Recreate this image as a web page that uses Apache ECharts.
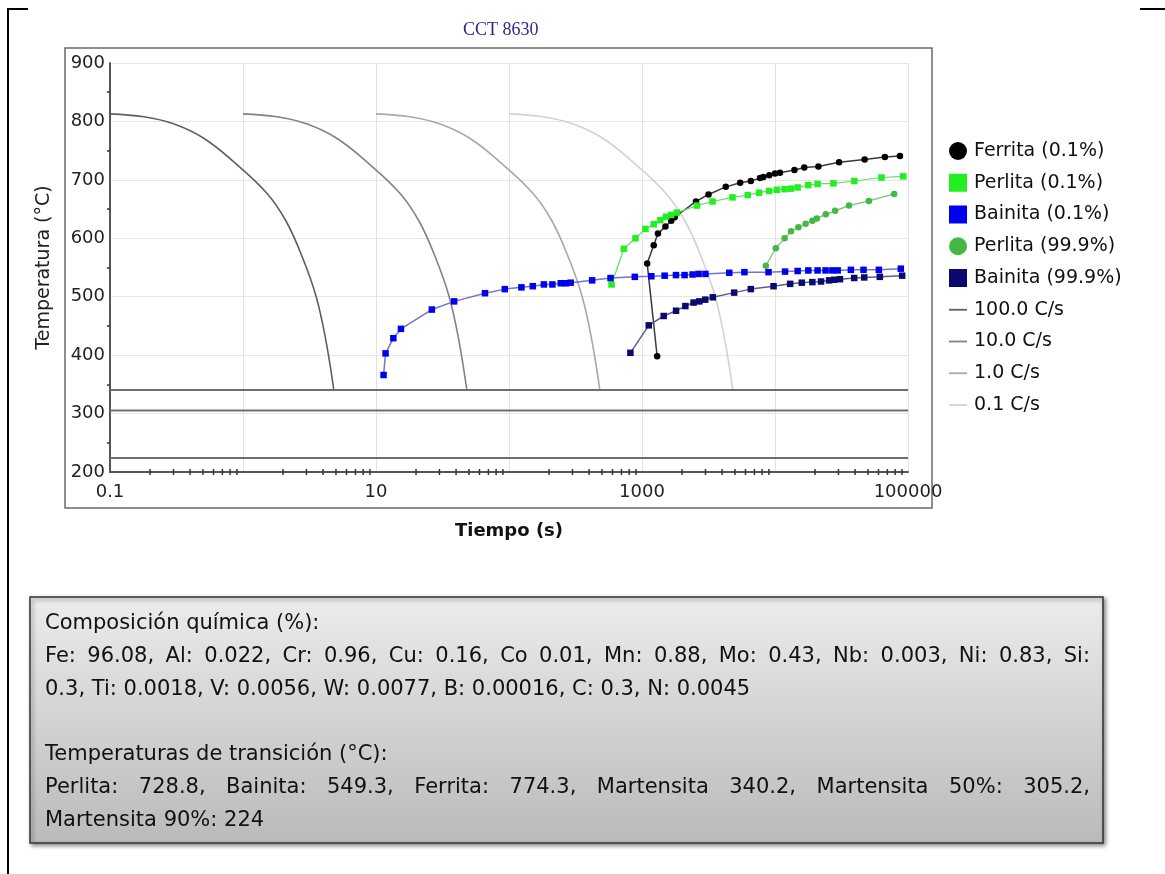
<!DOCTYPE html>
<html>
<head>
  <meta charset="utf-8">
  <script src="https://cdn.jsdelivr.net/npm/echarts@6/dist/echarts.min.js"></script>
  <style>
    html, body { margin: 0; padding: 0; background: #fff; }
    #main { width: 1165px; height: 874px; }
  </style>
</head>
<body>
<div id="main"></div>
<script type="text/javascript">
  // tick labels shown on the log time axis
  var xTickLabels = ['0.1', '10', '1000', '100000'];
  var xMinorMultipliers = [2, 3, 4, 5, 6, 7, 8, 9];
  var xDecades = [0.1, 1, 10, 100, 1000, 10000];

  // martensite start / 50% / 90% (horizontal lines)
  var martensiteTemps = [340.2, 305.2, 224];

  // cooling curves [tiempo s, temperatura C]
  var cool100 = [[0.1, 813], [0.18, 808], [0.3, 796], [0.5, 772], [0.84, 732], [1.5, 678], [2.1, 630], [2.8, 567], [3.55, 500], [4.2, 425], [4.82, 340.2]];
  var cool10 = [[1, 813], [1.8, 808], [3, 796], [5, 772], [8.4, 732], [15, 678], [21, 630], [28, 567], [35.5, 500], [42, 425], [48.2, 340.2]];
  var cool1 = [[10, 813], [18, 808], [30, 796], [50, 772], [84, 732], [150, 678], [210, 630], [280, 567], [355, 500], [420, 425], [482, 340.2]];
  var cool01 = [[100, 813], [180, 808], [300, 796], [500, 772], [840, 732], [1500, 678], [2100, 630], [2800, 567], [3550, 500], [4200, 425], [4820, 340.2]];

  // transformation curves
  var ferrita01 = [[1300, 398], [1094, 557], [1225, 588], [1318, 608], [1500, 620], [1660, 630], [1760, 636], [2546, 663], [3162, 675], [4266, 688], [5470, 695], [6580, 698], [7720, 703], [8180, 705], [9060, 708], [10000, 711], [10900, 712], [14000, 717], [16600, 721], [21200, 723], [30300, 730], [47200, 735], [67000, 739], [87000, 741]];
  var perlita01 = [[590, 521], [730, 582], [893, 600], [1061, 616], [1225, 624], [1375, 631], [1515, 637], [1660, 640], [1830, 644], [2590, 656], [3390, 663], [4790, 670], [6240, 674], [7600, 678], [9040, 681], [10330, 683], [11800, 684], [13200, 685], [14800, 687], [17800, 691], [20900, 693], [27500, 694], [39500, 698], [63200, 704], [92100, 706]];
  var bainita01 = [[11.4, 366], [11.8, 403], [13.5, 429], [15.4, 445], [26.3, 478], [38.7, 492], [66, 506], [93, 513], [124, 516], [151, 518], [183, 521], [212, 521], [245, 523], [268, 523], [291, 524], [422, 528], [580, 532], [883, 534], [1175, 535], [1480, 536], [1800, 537], [2090, 537], [2400, 538], [2665, 539], [3000, 539], [4530, 541], [5890, 542], [8940, 542], [11900, 543], [14800, 544], [17800, 545], [20900, 545], [24000, 545], [27000, 545], [29600, 545], [37200, 546], [46300, 546], [60400, 546], [88300, 548]];
  var perlita999 = [[8530, 553], [10140, 583], [11800, 600], [13200, 612], [15000, 619], [17000, 625], [19100, 630], [20600, 634], [24100, 641], [28300, 647], [36000, 656], [50800, 664], [78700, 676]];
  var bainita999 = [[818, 404], [1124, 451], [1456, 467], [1803, 476], [2118, 484], [2443, 490], [2697, 492], [2991, 495], [3410, 499], [4930, 507], [6580, 513], [9750, 518], [13000, 522], [15900, 524], [19100, 525], [22200, 526], [25500, 528], [27900, 529], [30800, 530], [39400, 532], [46900, 533], [61400, 534], [90400, 536]];

  var boxLines = [
    'Composición química (%):',
    'Fe: 96.08, Al: 0.022, Cr: 0.96, Cu: 0.16, Co 0.01, Mn: 0.88, Mo: 0.43, Nb: 0.003, Ni: 0.83, Si:',
    '0.3, Ti: 0.0018, V: 0.0056, W: 0.0077, B: 0.00016, C: 0.3, N: 0.0045',
    '',
    'Temperaturas de transición (°C):',
    'Perlita: 728.8, Bainita: 549.3, Ferrita: 774.3, Martensita 340.2, Martensita 50%: 305.2,',
    'Martensita 90%: 224'
  ];
  var boxJustify = [false, true, false, false, false, true, false];

  var sans = '"DejaVu Sans"';

  // minor ticks of the log axis (2..9 within each decade)
  var minorTicks = [];
  for (var d = 0; d < xDecades.length; d++) {
    for (var m = 0; m < xMinorMultipliers.length; m++) {
      minorTicks.push([+(xDecades[d] * xMinorMultipliers[m]).toPrecision(6), 200]);
    }
  }

  // text of the grey box, justified lines laid out word by word
  function boxText() {
    var els = [];
    var font = '21px ' + sans;
    var ctx = document.createElement('canvas').getContext('2d');
    ctx.font = font;
    var left = 45, width = 1045;
    for (var i = 0; i < boxLines.length; i++) {
      var y = 621 + i * 32.8;
      if (!boxLines[i]) continue;
      if (!boxJustify[i]) {
        els.push({type: 'text', left: left, top: y - 8, z: 10,
          style: {text: boxLines[i], font: font, fill: '#111'}});
        continue;
      }
      var words = boxLines[i].split(' ');
      var total = 0;
      for (var w = 0; w < words.length; w++) total += ctx.measureText(words[w]).width;
      var gap = (width - total) / (words.length - 1);
      var x = left;
      for (var w = 0; w < words.length; w++) {
        els.push({type: 'text', left: x, top: y - 8, z: 10,
          style: {text: words[w], font: font, fill: '#111'}});
        x += ctx.measureText(words[w]).width + gap;
      }
    }
    return els;
  }

  function lineSeries(name, data, color, width) {
    return {
      name: name, type: 'line', data: data, smooth: 0.4, showSymbol: false,
      lineStyle: {color: color, width: width}, itemStyle: {color: color},
      z: 2, silent: true
    };
  }

  function phaseSeries(name, data, symbol, size, dot, line, width) {
    return {
      name: name, type: 'line', data: data, symbol: symbol, symbolSize: size,
      itemStyle: {color: dot}, lineStyle: {color: line, width: width}, z: 4
    };
  }

  var series = [
    lineSeries('100.0 C/s', cool100, '#5f5f5f', 1.6),
    lineSeries('10.0 C/s', cool10, '#828282', 1.6),
    lineSeries('1.0 C/s', cool1, '#a8a8a8', 1.6),
    lineSeries('0.1 C/s', cool01, '#d2d2d2', 1.6),
    phaseSeries('Ferrita (0.1%)', ferrita01, 'circle', 6.5, '#000000', '#3a3a3a', 1.5),
    phaseSeries('Perlita (0.1%)', perlita01, 'rect', 6.5, '#22ee22', '#66dd66', 1.2),
    phaseSeries('Bainita (0.1%)', bainita01, 'rect', 6.5, '#0000ee', '#7474cc', 1.5),
    phaseSeries('Perlita (99.9%)', perlita999, 'circle', 6.5, '#44b844', '#77c077', 1.2),
    phaseSeries('Bainita (99.9%)', bainita999, 'rect', 6.5, '#0a0a6e', '#5d5d8e', 1.5)
  ];
  for (var k = 0; k < martensiteTemps.length; k++) {
    series.push({
      name: 'M' + k, type: 'line', showSymbol: false, silent: true, z: 2,
      data: [[0.1, martensiteTemps[k]], [100000, martensiteTemps[k]]],
      lineStyle: {color: '#6e6e6e', width: 2}
    });
  }
  series.push({
    name: 'minor', type: 'custom', data: minorTicks, silent: true, z: 5,
    encode: {x: 0, y: 1},
    renderItem: function (params, api) {
      var p = api.coord([api.value(0), 200]);
      return {type: 'line', shape: {x1: p[0], y1: p[1] - 3, x2: p[0], y2: p[1] + 3},
        style: {stroke: '#333', lineWidth: 1.5}};
    }
  });

  var lineIcon = 'path://M0,0 L20,0 L20,2 L0,2 Z';

  var myChart = echarts.init(document.getElementById('main'));
  var option = {
    animation: false,
    backgroundColor: '#fff',
    title: {
      text: 'CCT 8630', left: 458, top: 16,
      textStyle: {fontFamily: '"Liberation Serif"', fontSize: 18, fontWeight: 'normal', color: '#2a2a8a'}
    },
    legend: {
      orient: 'vertical', left: 944, top: 136,
      itemWidth: 18, itemHeight: 18, itemGap: 11.75, symbolKeepAspect: true,
      textStyle: {fontFamily: sans, fontSize: 19, color: '#111', lineHeight: 20, padding: [0, 0, 0, 2]},
      data: [
        {name: 'Ferrita (0.1%)', icon: 'circle'},
        {name: 'Perlita (0.1%)', icon: 'rect'},
        {name: 'Bainita (0.1%)', icon: 'rect'},
        {name: 'Perlita (99.9%)', icon: 'circle'},
        {name: 'Bainita (99.9%)', icon: 'rect'},
        {name: '100.0 C/s', icon: lineIcon},
        {name: '10.0 C/s', icon: lineIcon},
        {name: '1.0 C/s', icon: lineIcon},
        {name: '0.1 C/s', icon: lineIcon}
      ]
    },
    grid: {left: 110, right: 257, top: 63, bottom: 402, containLabel: false},
    xAxis: {
      type: 'log', logBase: 10, min: 0.1, max: 100000,
      name: 'Tiempo (s)', nameLocation: 'middle', nameGap: 50,
      nameTextStyle: {fontFamily: sans, fontSize: 18, fontWeight: 'bold', color: '#111'},
      axisLine: {lineStyle: {color: '#555', width: 2}},
      axisTick: {show: false},
      axisLabel: {
        fontFamily: sans, fontSize: 18, color: '#222', margin: 11,
        showMinLabel: true, showMaxLabel: true, hideOverlap: false,
        formatter: function (v) {
          var s = v >= 1 ? String(Math.round(v)) : String(+v.toFixed(1));
          return xTickLabels.indexOf(s) >= 0 ? s : '';
        }
      },
      splitLine: {show: true, lineStyle: {color: '#e2e2e2', width: 1}}
    },
    yAxis: {
      type: 'value', min: 200, max: 900, interval: 100,
      name: 'Temperatura (°C)', nameLocation: 'middle', nameGap: 56, nameRotate: 90,
      nameTextStyle: {fontFamily: sans, fontSize: 19, color: '#222'},
      axisLine: {show: true, lineStyle: {color: '#555', width: 2}},
      axisTick: {show: false},
      minorTick: {show: true, splitNumber: 2, length: 3, lineStyle: {color: '#333', width: 1.5}},
      axisLabel: {fontFamily: sans, fontSize: 18, color: '#222', margin: 5},
      splitLine: {lineStyle: {color: '#e6e6e6', width: 1}}
    },
    graphic: [
      // page border pieces
      {type: 'line', shape: {x1: 8, y1: 8, x2: 8, y2: 874}, style: {stroke: '#000', lineWidth: 2}},
      {type: 'line', shape: {x1: 7, y1: 9, x2: 28, y2: 9}, style: {stroke: '#000', lineWidth: 2}},
      {type: 'line', shape: {x1: 1140, y1: 9, x2: 1165, y2: 9}, style: {stroke: '#000', lineWidth: 2}},
      // chart frame
      {type: 'rect', shape: {x: 65, y: 48, width: 867, height: 460},
        style: {fill: 'none', stroke: '#6a6a6a', lineWidth: 1.5}, z: -1},
      // information box
      {type: 'rect', shape: {x: 30, y: 597, width: 1073, height: 246}, z: 5,
        style: {
          fill: new echarts.graphic.LinearGradient(0, 0, 0, 1, [
            {offset: 0, color: '#ececec'}, {offset: 1, color: '#bababa'}
          ]),
          stroke: '#333', lineWidth: 1.5,
          shadowBlur: 4, shadowOffsetX: 2, shadowOffsetY: 2, shadowColor: 'rgba(0,0,0,0.45)'
        }}
    ].concat(boxText()),
    series: series
  };
  myChart.setOption(option);
</script>
</body>
</html>
